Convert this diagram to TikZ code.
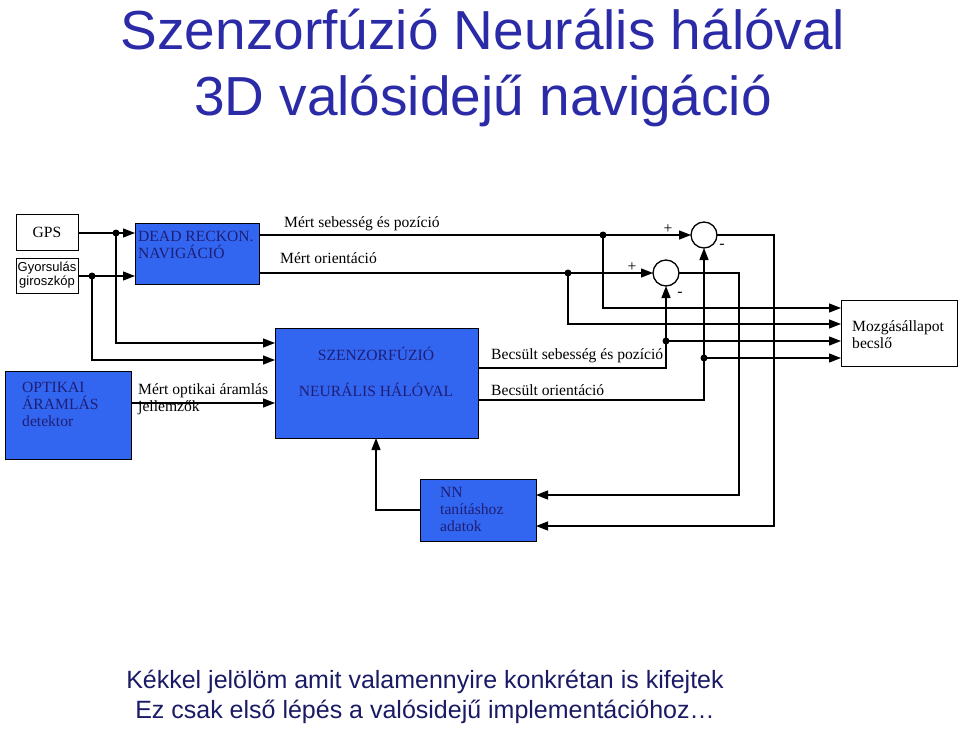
\documentclass[tikz,border=0pt]{standalone}
\usepackage{fontspec}
\setmainfont{Liberation Serif}
\newfontfamily\arialf{Liberation Sans}
\usetikzlibrary{arrows.meta}
\definecolor{bfill}{HTML}{3366F0}
\definecolor{ttl}{HTML}{2B2BA8}
\begin{document}
\begin{tikzpicture}[x=1pt,y=-1pt,
  box/.style={draw,line width=1pt,inner sep=0},
  bluebox/.style={box,fill=bfill},
  ln/.style={line width=1.3pt},
  ar/.style={ln,-{Triangle[length=12pt,width=9pt]}},
  dot/.style={circle,fill,inner sep=0,minimum size=7pt},
  lbl/.style={font=\fontsize{15.6}{17}\selectfont,anchor=west,inner sep=0},
  sm/.style={font=\arialf\fontsize{13}{14}\selectfont,align=center,inner sep=0}]
\useasboundingbox (0,0) rectangle (960,730);
\node[font=\arialf\fontsize{55}{60}\selectfont,text=ttl] (t1) at (483,30) {Szenzorfúzió Neurális hálóval};
\node[font=\arialf\fontsize{55}{60}\selectfont,text=ttl] (t2) at (483,101) {3D valósidejű navigáció};
% boxes
\draw[box] (16,214) rectangle (78,250); \node[lbl,anchor=center] (gps) at (47,232) {GPS};
\draw[box] (16,258) rectangle (78,293); \node[sm] (gy) at (47,275) {Gyorsulás\\giroszkóp};
\draw[bluebox] (135,223) rectangle (259,284);
\node[lbl,align=left,anchor=north west,text=ttl!70!black] (dr) at (138,231) {DEAD RECKON.\\NAVIGÁCIÓ};
\draw[bluebox] (275,328) rectangle (478,438);
\node[lbl,anchor=center,text=ttl!70!black] (f1) at (376,354) {SZENZORFÚZIÓ};
\node[lbl,anchor=center,text=ttl!70!black] (f2) at (376,390) {NEURÁLIS HÁLÓVAL};
\draw[bluebox] (5,371) rectangle (131,459);
\node[lbl,align=left,anchor=north west,text=ttl!70!black] (op) at (22,382) {OPTIKAI\\ÁRAMLÁS\\detektor};
\draw[box] (841,300) rectangle (957,366);
\node[lbl,align=left,anchor=north west] (mz) at (852,320) {Mozgásállapot\\becslő};
\draw[bluebox] (420,479) rectangle (536,541);
\node[lbl,align=left,anchor=north west,text=ttl!70!black] (nn) at (440,487) {NN\\tanításhoz\\adatok};
\draw[ln] (704,235) circle (13); \draw[ln] (666,273) circle (13);
% inputs
\draw[ar] (78,233) -- (135,233);
\draw[ar] (78,276) -- (135,276);
\node[dot] at (116,233) {}; \node[dot] at (92,276) {};
\draw[ar] (116,233) |- (275,343);
\draw[ar] (92,276) |- (275,360);
\draw[ar] (131,403) -- (275,403);
\node[lbl,align=left,anchor=north west] (mo) at (138,383) {Mért optikai áramlás\\jellemzők};
% measured
\draw[ln] (259,235) -- (603,235); \draw[ar] (603,235) -- (691,235);
\draw[ln] (259,273) -- (568,273); \draw[ar] (568,273) -- (653,273);
\node[lbl] at (284,224) {Mért sebesség és pozíció};
\node[lbl] at (280,258) {Mért orientáció};
\node[dot] at (603,235) {}; \node[dot] at (568,273) {};
\draw[ar] (603,235) |- (841,308);
\draw[ar] (568,273) |- (841,324);
% estimated
\draw[ar] (478,368) -| (666,286);
\draw[ar] (478,400) -| (704,248);
\node[dot] at (666,341) {}; \node[dot] at (704,358) {};
\draw[ar] (666,341) -- (841,341);
\draw[ar] (704,358) -- (841,358);
\node[lbl] at (491,356) {Becsült sebesség és pozíció};
\node[lbl] at (491,390) {Becsült orientáció};
% differences to NN
\draw[ar] (717,235) -- (774,235) |- (536,526);
\draw[ar] (679,273) -- (739,273) |- (536,495);
\draw[ar] (420,510) -| (376,438);
\node[lbl,anchor=center] at (668,229) {+};
\node[lbl,anchor=center] at (632,267) {+};
\node[lbl,anchor=center] at (722,246) {-};
\node[lbl,anchor=center] at (680,294) {-};
\node[font=\arialf\fontsize{25}{27}\selectfont,text=ttl!60!black] (b1) at (425,682) {Kékkel jelölöm amit valamennyire konkrétan is kifejtek};
\node[font=\arialf\fontsize{25}{27}\selectfont,text=ttl!60!black] (b2) at (425,712) {Ez csak első lépés a valósidejű implementációhoz…};
\end{tikzpicture}
\end{document}
